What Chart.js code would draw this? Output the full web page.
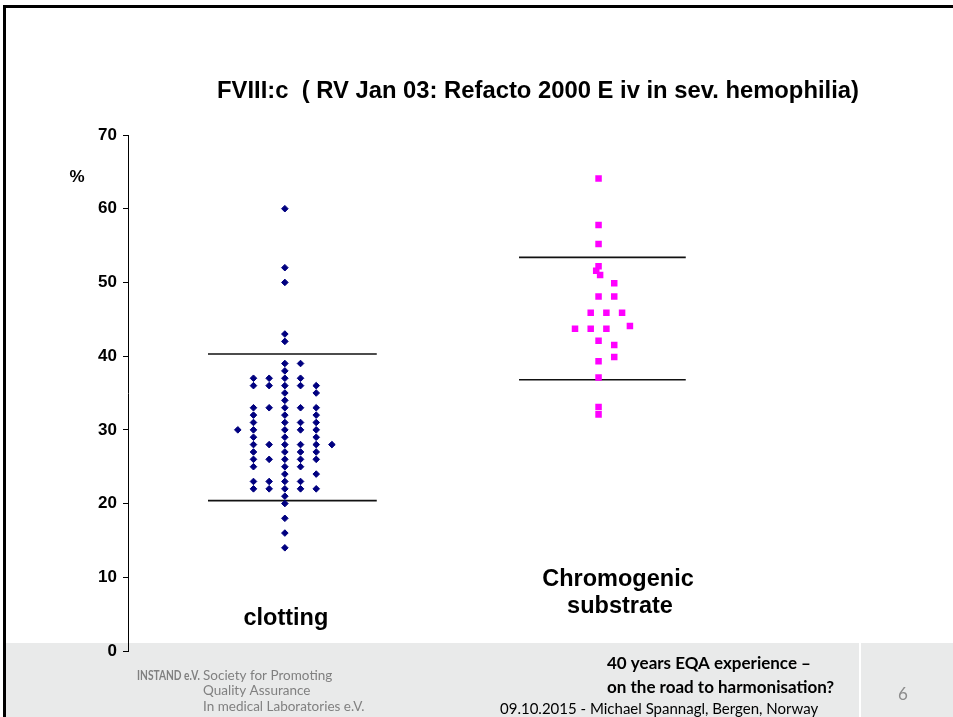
<!DOCTYPE html>
<html>
<head>
<meta charset="utf-8">
<title>FVIII:c RV Jan 03</title>
<script src="https://cdn.jsdelivr.net/npm/chart.js@4.4.0/dist/chart.umd.min.js"></script>
<style>
  html, body { margin: 0; padding: 0; background: #fff; }
  canvas { display: block; }
</style>
</head>
<body>
<canvas id="myChart" width="953" height="717"></canvas>
<script>
// tick labels of the % axis
const yTicks = [0, 10, 20, 30, 40, 50, 60, 70];

// the two methods and where they sit on the x axis
const groupNames = ["clotting", "Chromogenic substrate"];
const groupPos = [1, 3];

// clotting results, one array per dot column (columns are side by side)
const clotColOffset = [-0.3, -0.2, -0.1, 0, 0.1, 0.2, 0.3];
const clotCols = [
  [30],
  [37, 36, 33, 32, 31, 30, 29, 28, 27, 26, 25, 23, 22],
  [37, 36, 33, 28, 26, 23, 22],
  [60, 52, 50, 43, 42, 39, 38, 37, 36, 35, 34, 33, 32, 31, 30, 29, 28, 27, 26, 25, 24, 23, 22, 21, 20, 18, 16, 14],
  [39, 37, 36, 33, 31, 30, 28, 27, 26, 25, 23, 22],
  [36, 35, 33, 32, 31, 30, 29, 28, 27, 26, 24, 22],
  [28]
];

// chromogenic results and their sideways offset
const chromoValues = [64.1, 57.8, 55.2, 52.2, 51.6, 51.0, 49.9, 48.1, 48.1, 45.9, 45.9, 45.9, 44.1, 43.7, 43.7, 43.7, 42.1, 41.5, 39.9, 39.3, 37.1, 33.1, 32.1];
const chromoOffset = [0, 0, 0, 0, -0.015, 0.01, 0.1, 0, 0.1, -0.05, 0.05, 0.15, 0.2, -0.15, -0.05, 0.05, 0, 0.1, 0.1, 0, 0, 0, 0];

// limits (upper, lower) for each method
const clotLimits = [40.3, 20.4];
const chromoLimits = [53.4, 36.8];
// how far the limit lines run
const clotSpan = [0.51, 1.586];
const chromoSpan = [2.493, 3.556];

let clotPoints = [];
clotCols.forEach((col, i) => {
  col.forEach(v => clotPoints.push({ x: groupPos[0] + clotColOffset[i], y: v }));
});
let chromoPoints = chromoValues.map((v, i) => ({ x: groupPos[1] + chromoOffset[i], y: v }));

function limitLine(span, v) {
  return {
    data: [{ x: span[0], y: v }, { x: span[1], y: v }],
    showLine: true,
    borderColor: "#111",
    borderWidth: 1.6,
    pointRadius: 0,
  };
}

const ARIAL = "'Liberation Sans', Arial, sans-serif";
const CALIBRI = "Lato, 'Open Sans', sans-serif";

// slide background, frame, footer and the texts around the chart
const slideDecor = {
  id: "slideDecor",
  beforeDraw(chart) {
    const c = chart.ctx;
    c.save();
    c.fillStyle = "#fff";
    c.fillRect(0, 0, 953, 717);
    c.fillStyle = "#e9eaea";
    c.fillRect(6, 643, 947, 74);
    c.fillStyle = "#fff";
    c.fillRect(859, 643, 2, 74);
    c.fillStyle = "#000";
    c.fillRect(3, 5, 950, 3);
    c.fillRect(3, 5, 3, 712);
    c.restore();
  },
  afterDraw(chart) {
    const c = chart.ctx;
    const xs = chart.scales.x;
    c.save();
    c.fillStyle = "#000";
    c.textAlign = "center";
    c.font = "bold 23.8px " + ARIAL;
    c.fillText("FVIII:c  ( RV Jan 03: Refacto 2000 E iv in sev. hemophilia)", 538, 98);
    c.font = "bold 17px " + ARIAL;
    c.fillText("%", 77, 182);
    c.font = "bold 23.5px " + ARIAL;
    c.fillText(groupNames[0], xs.getPixelForValue(groupPos[0]) + 1, 625);
    const parts = groupNames[1].split(" ");
    c.fillText(parts[0], 618, 586);
    c.fillText(parts[1], 620, 613);

    // footer (maxWidth squeezes Lato closer to the narrower Calibri)
    c.textAlign = "left";
    c.fillStyle = "#808080";
    c.font = "bold 13px " + CALIBRI;
    c.fillText("INSTAND e.V.", 137, 680, 63);
    c.font = "13.5px " + CALIBRI;
    c.fillText("Society for Promoting", 203, 680, 166);
    c.fillText("Quality Assurance", 203, 695, 142);
    c.fillText("In medical Laboratories e.V.", 203, 711, 172);
    c.fillStyle = "#000";
    c.font = "bold 17px " + CALIBRI;
    c.fillText("40 years EQA experience \u2013", 607, 669);
    c.fillText("on the road to harmonisation?", 607, 693);
    c.font = "15px " + CALIBRI;
    c.fillText("09.10.2015 - Michael Spannagl, Bergen, Norway", 500, 714);
    c.fillStyle = "#8c8c8c";
    c.textAlign = "center";
    c.font = "17px " + CALIBRI;
    c.fillText("6", 903, 700);
    c.restore();
  }
};

var ctx = document.getElementById("myChart").getContext("2d");

var chart1 = new Chart(ctx, {
  type: "scatter",
  data: {
    datasets: [
      {
        label: groupNames[0],
        data: clotPoints,
        pointStyle: "rectRot",
        pointRadius: 3.3,
        backgroundColor: "#000080",
        borderColor: "#000080",
        borderWidth: 1,
      },
      {
        label: groupNames[1],
        data: chromoPoints,
        pointStyle: "rect",
        pointRadius: 4.6,
        backgroundColor: "#ff00ff",
        borderColor: "#ff00ff",
        borderWidth: 0,
      },
      limitLine(clotSpan, clotLimits[0]),
      limitLine(clotSpan, clotLimits[1]),
      limitLine(chromoSpan, chromoLimits[0]),
      limitLine(chromoSpan, chromoLimits[1]),
    ],
  },
  options: {
    responsive: false,
    animation: false,
    events: [],
    layout: { padding: { top: 135, right: 197.6, bottom: 66, left: 0 } },
    plugins: {
      legend: { display: false },
      tooltip: { enabled: false },
    },
    scales: {
      x: { type: "linear", display: false, min: 0, max: 4 },
      y: {
        min: 0,
        max: 70,
        afterFit(scale) { scale.width = 128; },
        afterBuildTicks(scale) { scale.ticks = yTicks.map(v => ({ value: v })); },
        border: { display: true, color: "#000", width: 1 },
        grid: { drawOnChartArea: false, color: "#000", tickLength: 5 },
        ticks: {
          color: "#000",
          padding: 6,
          font: { family: ARIAL, size: 17, weight: "bold" },
        },
      },
    },
  },
  plugins: [slideDecor],
});
</script>
</body>
</html>
